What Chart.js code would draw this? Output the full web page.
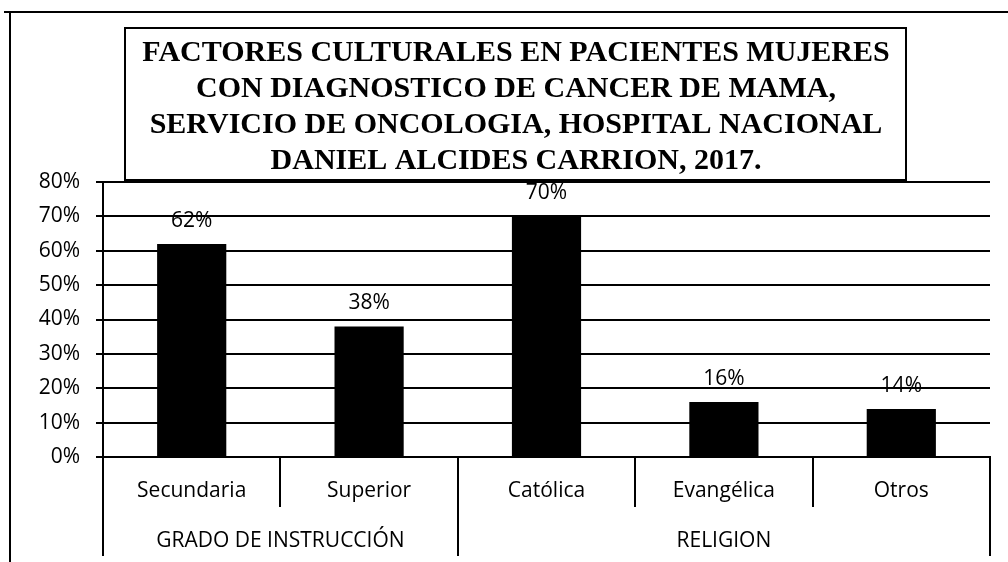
<!DOCTYPE html>
<html>
<head>
<meta charset="utf-8">
<script src="https://cdn.jsdelivr.net/npm/chart.js@4/dist/chart.umd.min.js"></script>
<style>
html,body{margin:0;padding:0;background:#fff;}
#wrap{width:1008px;height:562px;position:relative;}
</style>
</head>
<body>
<div id="wrap"><canvas id="c"></canvas></div>
<script>
const categories = ['Secundaria', 'Superior', 'Católica', 'Evangélica', 'Otros'];
const values = [62, 38, 70, 16, 14];
const groups = ['GRADO DE INSTRUCCIÓN', 'RELIGION'];
const groupSizes = [2, 3];
const yTickValues = [0, 10, 20, 30, 40, 50, 60, 70, 80];
const titleLines = [
  'FACTORES CULTURALES EN PACIENTES MUJERES',
  'CON DIAGNOSTICO DE CANCER DE MAMA,',
  'SERVICIO DE ONCOLOGIA, HOSPITAL NACIONAL',
  'DANIEL ALCIDES CARRION, 2017.'
];

const SANS = '"Open Sans", "DejaVu Sans", sans-serif';
const SERIF = '"Liberation Serif", "DejaVu Serif", serif';

const decor = {
  id: 'decor',
  afterDraw(chart) {
    const ctx = chart.ctx;
    const xs = chart.scales.x;
    const area = chart.chartArea;
    ctx.save();
    // data labels
    ctx.fillStyle = '#000';
    ctx.font = '21px ' + SANS;
    ctx.textAlign = 'center';
    ctx.textBaseline = 'middle';
    const meta = chart.getDatasetMeta(0);
    meta.data.forEach((bar, i) => {
      ctx.fillText(values[i] + '%', bar.x, bar.y - 23);
    });
    // separators below axis
    const n = categories.length;
    const w = (xs.right - xs.left) / n;
    const groupBounds = [0];
    let acc = 0;
    groupSizes.forEach(s => { acc += s; groupBounds.push(acc); });
    ctx.strokeStyle = '#000';
    ctx.lineWidth = 2;
    for (let k = 0; k <= n; k++) {
      const px = Math.round(xs.left + k * w);
      const isGroup = groupBounds.includes(k);
      ctx.beginPath();
      ctx.moveTo(px, area.bottom);
      ctx.lineTo(px, isGroup ? 556 : 507);
      ctx.stroke();
    }
    // group labels
    ctx.font = '21px ' + SANS;
    for (let g = 0; g < groups.length; g++) {
      const cx = xs.left + (groupBounds[g] + groupBounds[g + 1]) / 2 * w;
      ctx.fillText(groups[g], cx, 541);
    }
    // outer frame
    ctx.beginPath();
    ctx.moveTo(4, 12); ctx.lineTo(1008, 12);
    ctx.moveTo(10, 12); ctx.lineTo(10, 562);
    ctx.stroke();
    // title box
    ctx.fillStyle = '#fff';
    ctx.fillRect(125, 28, 781, 152);
    ctx.strokeRect(125, 28, 781, 152);
    ctx.fillStyle = '#000';
    ctx.font = 'bold 30px ' + SERIF;
    const centers = [53, 89, 125, 161];
    titleLines.forEach((t, i) => ctx.fillText(t, 516, centers[i]));
    ctx.restore();
  }
};

new Chart(document.getElementById('c'), {
  type: 'bar',
  data: {
    labels: categories,
    datasets: [{
      data: values,
      backgroundColor: '#000',
      borderWidth: 0,
      barPercentage: 0.39,
      categoryPercentage: 1.0
    }]
  },
  options: {
    responsive: true,
    maintainAspectRatio: false,
    animation: false,
    devicePixelRatio: 1,
    layout: { padding: { left: 0, right: 18, top: 182, bottom: 0 } },
    plugins: { legend: { display: false }, tooltip: { enabled: false }, title: { display: false } },
    scales: {
      x: {
        grid: { display: false, drawTicks: false },
        border: { display: true, color: '#000', width: 2 },
        ticks: { color: '#000', font: { family: SANS, size: 21 }, padding: 21, maxRotation: 0, autoSkip: false },
        afterFit(s) { s.height = 562 - 457; }
      },
      y: {
        min: 0, max: 80,
        afterBuildTicks(s) { s.ticks = yTickValues.map(v => ({ value: v })); },
        grid: { color: '#000', lineWidth: 2, tickLength: 7, drawTicks: true },
        border: { display: true, color: '#000', width: 2 },
        ticks: { color: '#000', font: { family: SANS, size: 21 }, padding: 16, callback: v => v + '%' },
        afterFit(s) { s.width = 103; }
      }
    }
  },
  plugins: [decor]
});
</script>
</body>
</html>
